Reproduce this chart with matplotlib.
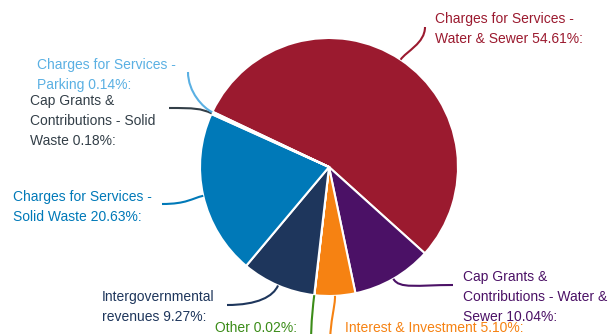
import matplotlib
matplotlib.use("Agg")
import matplotlib.pyplot as plt
import numpy as np
from matplotlib.path import Path
from matplotlib.patches import PathPatch

categories = [
    "Charges for Services - Water & Sewer",
    "Cap Grants & Contributions - Water & Sewer",
    "Interest & Investment",
    "Other",
    "Intergovernmental revenues",
    "Charges for Services - Solid Waste",
    "Cap Grants & Contributions - Solid Waste",
    "Charges for Services - Parking",
]
values = [54.61, 10.04, 5.10, 0.02, 9.27, 20.63, 0.18, 0.14]
label_lines = [
    ["Charges for Services -", "Water & Sewer 54.61%:"],
    ["Cap Grants &", "Contributions - Water &", "Sewer 10.04%:"],
    ["Interest & Investment 5.10%:"],
    ["Other 0.02%:"],
    ["Intergovernmental", "revenues 9.27%:"],
    ["Charges for Services -", "Solid Waste 20.63%:"],
    ["Cap Grants &", "Contributions - Solid", "Waste 0.18%:"],
    ["Charges for Services -", "Parking 0.14%:"],
]
colors = ["#9b1a2f", "#4b1166", "#f68212", "#3b8c18", "#1e365c",
          "#0079b8", "#333f48", "#5ab0e3"]

W, H = 609, 334
fig = plt.figure(figsize=(W / 100, H / 100), dpi=100)
ax = fig.add_axes([0, 0, 1, 1])

cx, cy, R = 329, H - 167, 129
wedges, _ = ax.pie(values, colors=colors, startangle=154.6, counterclock=False,
                   center=(cx, cy), radius=R,
                   wedgeprops=dict(edgecolor="white", linewidth=1.5))
ax.set_xlim(0, W)
ax.set_ylim(0, H)
ax.set_aspect("equal", adjustable="box")
ax.axis("off")

# label placement (pixel coords, y measured from top): x, first baseline, connector end
label_pos = [
    (435, 23, (425, 27)),
    (463, 281, (453, 285)),
    (345, 332, (330, 345)),
    (215, 332, (311, 345)),
    (102, 301, (227, 305)),
    (13, 201, (162, 204)),
    (30, 105, (169, 108)),
    (37, 69, (188, 72)),
]

for w, lines, col, (tx, ty, end) in zip(wedges, label_lines, colors, label_pos):
    mid = np.deg2rad((w.theta1 + w.theta2) / 2)
    p0 = np.array([cx + R * np.cos(mid), cy + R * np.sin(mid)])
    p3 = np.array([end[0], H - end[1]])
    radial = np.array([np.cos(mid), np.sin(mid)])
    d = p3 - p0
    if abs(d[0]) > abs(d[1]):
        p1 = p0 + radial * 12
        p2 = p3 - np.array([np.sign(d[0]) * 0.6 * abs(d[0]), 0])
        p2[1] = p3[1]
    else:
        p1 = p0 + radial * 10
        p2 = p3 - np.array([0, np.sign(d[1]) * 0.5 * abs(d[1])])
        p2[0] = p3[0]
    path = Path([p0, p1, p2, p3], [Path.MOVETO, Path.CURVE4, Path.CURVE4, Path.CURVE4])
    ax.add_patch(PathPatch(path, facecolor="none", edgecolor=col, lw=1.5, clip_on=False))
    for i, line in enumerate(lines):
        ax.text(tx, H - (ty + 20 * i), line, color=col, fontsize=10,
                family="Liberation Sans", ha="left", va="baseline")

fig.savefig("out.png", dpi=100)
